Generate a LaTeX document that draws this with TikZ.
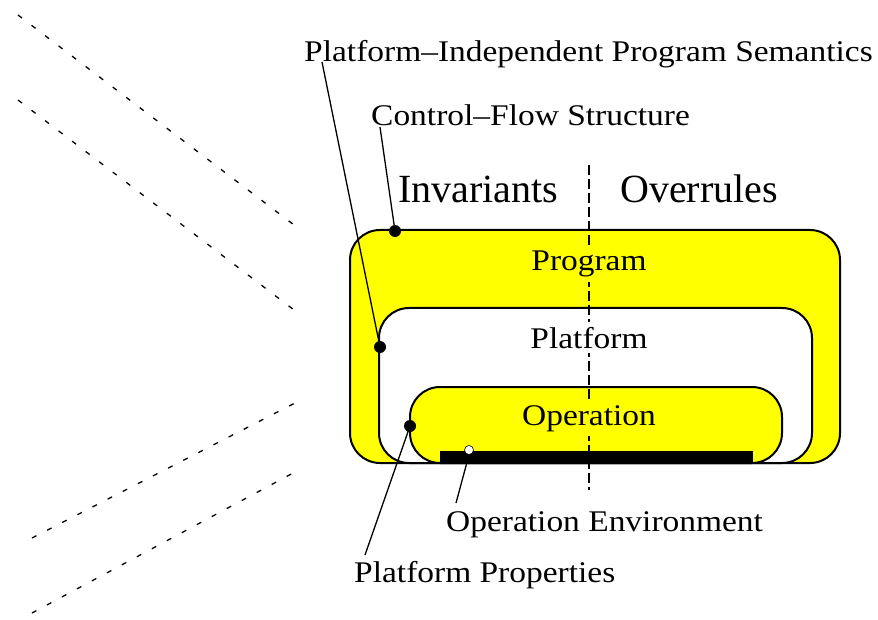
\documentclass[tikz,border=0pt]{standalone}
\usepackage{graphicx}
\usepackage{fontspec}
\setmainfont{Liberation Serif}
\definecolor{boxyellow}{RGB}{255,255,0}
\newcommand\wx[1]{\scalebox{1.115}[1]{#1}}
\tikzset{
  lab/.style={inner sep=1pt, font=\fontsize{30}{34}\selectfont},
  biglab/.style={inner sep=1pt, font=\fontsize{40}{46}\selectfont},
  dotmark/.style={circle, fill=black, inner sep=0pt, minimum size=12pt},
  leader/.style={line width=1.3pt},
  boxline/.style={line width=2pt, rounded corners=30pt},
  deco/.style={line width=1.3pt, dash pattern=on 5pt off 12pt},
  divider/.style={line width=1.2pt, dash pattern=on 10pt off 4pt},
}
\begin{document}
\begin{tikzpicture}[x=1pt,y=-1pt]
\useasboundingbox (0,0) rectangle (878,620);
% decorative dashed lines
\draw[deco] (18,15) -- (298,228);
\draw[deco] (18,100) -- (298,313);
\draw[deco] (32,538) -- (295,403);
\draw[deco] (32,613) -- (295,472);
% boxes
\draw[boxline, fill=boxyellow] (350,230) rectangle (840,463);
\draw[boxline, fill=white] (379,308) rectangle (812,463);
\draw[boxline, fill=boxyellow] (410,387) rectangle (782,463);
\fill[black] (440,451) rectangle (753,463);
% divider
\draw[divider] (589,165) -- (589,490);
% labels
\node[lab, anchor=base west] (pips) at (303,62) {\wx{Platform–Independent Program Semantics}};
\node[lab, anchor=base west] (cfs) at (370,126) {\wx{Control–Flow Structure}};
\node[biglab, anchor=base west] (inv) at (397,203) {Invariants};
\node[biglab, anchor=base west] (ovr) at (619,203) {Overrules};
\node[lab, anchor=base, fill=boxyellow, inner sep=5pt] (prog) at (589,271) {\wx{Program}};
\node[lab, anchor=base, fill=white, inner sep=5pt] (plat) at (589,348) {\wx{Platform}};
\node[lab, anchor=base, fill=boxyellow, inner sep=5pt] (oper) at (589,425) {\wx{Operation}};
\node[lab, anchor=base west] (openv) at (445,531) {\wx{Operation Environment}};
\node[lab, anchor=base west] (pprop) at (353,582) {\wx{Platform Properties}};
% markers
\node[dotmark] (dcfs) at (395,231) {};
\node[dotmark] (dpips) at (380,347) {};
\node[dotmark] (dpprop) at (410,426) {};
\node[circle, fill=white, draw=black, line width=0.6pt, inner sep=0pt, minimum size=9pt] (dopenv) at (469,450) {};
% leader ends
\coordinate (epips) at (322,62);
\coordinate (ecfs) at (380,127);
\coordinate (epprop) at (365,555);
\coordinate (eopenv) at (456,503);
\draw[leader] (epips) -- (dpips.center);
\draw[leader] (ecfs) -- (dcfs.center);
\draw[leader] (epprop) -- (dpprop.center);
\draw[leader] (eopenv) -- (dopenv.south);
\end{tikzpicture}
\end{document}
